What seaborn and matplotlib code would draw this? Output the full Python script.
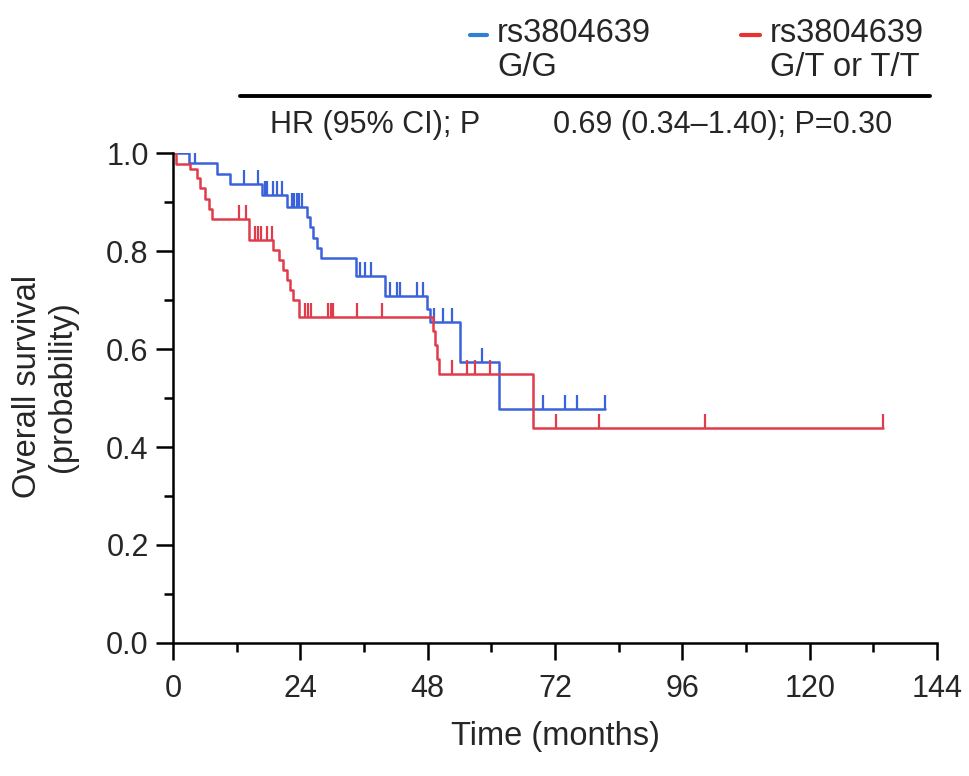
import numpy as np
import pandas as pd
import matplotlib
matplotlib.use("Agg")
import matplotlib.pyplot as plt
from matplotlib.ticker import MultipleLocator
import seaborn as sns

# ---- data ----
blue_label = ["rs3804639", "G/G"]
red_label = ["rs3804639", "G/T or T/T"]

blue_t = [0, 3.0, 8.3, 10.7, 16.8, 21.4, 25.3, 25.8, 26.4, 27.1, 27.9, 34.4, 40.0, 47.8, 48.5, 54.1, 61.5]
blue_s = [1.0, 0.980, 0.958, 0.936, 0.914, 0.890, 0.869, 0.848, 0.827, 0.806, 0.785, 0.749, 0.709, 0.682, 0.656, 0.574, 0.477]
blue_cens = [4.2, 13.4, 16.0, 17.3, 17.8, 18.9, 19.6, 20.5, 22.4, 22.9, 23.3, 23.8, 24.3,
             35.2, 36.2, 37.3, 40.9, 42.2, 42.8, 45.9, 47.2, 49.2, 50.9, 52.6, 58.2,
             69.7, 73.9, 76.1, 81.4]

red_t = [0, 0.6, 3.2, 4.5, 5.1, 6.0, 6.7, 7.3, 14.3, 18.8, 19.9, 20.8, 21.4, 22.0, 22.7, 23.8,
         49.0, 49.4, 49.8, 50.2, 67.9]
red_s = [1.0, 0.977, 0.968, 0.948, 0.928, 0.906, 0.886, 0.866, 0.822, 0.802, 0.782, 0.761, 0.741,
         0.720, 0.700, 0.666, 0.637, 0.608, 0.579, 0.550, 0.438]
red_cens = [12.4, 13.8, 15.5, 16.0, 16.6, 17.7, 18.6, 24.9, 25.5, 26.1, 29.3, 29.7, 30.1,
            34.6, 39.3, 52.5, 55.4, 56.9, 59.7, 72.2, 80.2, 100.3, 133.8]

hr_label = "HR (95% CI); P"
hr_value = "0.69 (0.34\u20131.40); P=0.30"

x_ticks = [0, 24, 48, 72, 96, 120, 144]
y_ticks = [0.0, 0.2, 0.4, 0.6, 0.8, 1.0]

BLUE = "#3a62da"
RED = "#e03c4c"
BLUE_LEG = "#2f7fd3"
RED_LEG = "#e8322f"

sns.set_style("ticks")
plt.rcParams["font.family"] = ["Liberation Sans", "DejaVu Sans"]

fig = plt.figure(figsize=(9.69, 7.76), dpi=100)
W, H = 969, 776
ax = fig.add_axes([173 / W, 1 - 643 / H, (937 - 173) / W, (643 - 153) / H])


def curve_frame(t, s, cens):
    t = list(t) + [max(cens)]
    s = list(s) + [s[-1]]
    return pd.DataFrame({"t": t, "s": s})


def cens_frame(t, s, cens):
    t = np.asarray(t)
    s = np.asarray(s)
    idx = np.searchsorted(t, np.asarray(cens), side="right") - 1
    return pd.DataFrame({"t": cens, "s": s[idx]})


for t, s, c, col in [(blue_t, blue_s, blue_cens, BLUE), (red_t, red_s, red_cens, RED)]:
    df = curve_frame(t, s, c)
    sns.lineplot(data=df, x="t", y="s", ax=ax, color=col, drawstyle="steps-post",
                 estimator=None, sort=False, linewidth=1.8)
    cf = cens_frame(t, s, c)
    ax.plot(cf["t"], cf["s"], linestyle="none", marker=2, markersize=10,
            markeredgewidth=1.6, color=col)

ax.set_xlim(0, 144)
ax.set_ylim(0, 1.0)
ax.set_xticks(x_ticks)
ax.set_yticks(y_ticks)
ax.set_xticklabels([str(v) for v in x_ticks])
ax.set_yticklabels([f"{v:.1f}" for v in y_ticks])
ax.xaxis.set_minor_locator(MultipleLocator(12))
ax.yaxis.set_minor_locator(MultipleLocator(0.1))
ax.tick_params(which="major", length=12.5, width=1.8, labelsize=22, color="black")
ax.tick_params(axis="x", which="major", pad=10)
ax.tick_params(axis="y", which="major", pad=5)
ax.tick_params(which="minor", length=6.5, width=1.8, color="black")
for side in ["left", "bottom"]:
    ax.spines[side].set_linewidth(1.8)
    ax.spines[side].set_color("black")
sns.despine(ax=ax)
ax.spines["left"].set_bounds(0, 1.0)

ax.set_xlabel("Time (months)", fontsize=23.5, labelpad=12)
ax.set_ylabel("")
fig.text(45 / W, 1 - 387 / H, "Overall survival\n(probability)", fontsize=23.5,
         rotation=90, ha="center", va="center", multialignment="center", linespacing=1.15)

# ---- header: legend and HR line ----
fig.add_artist(plt.Line2D([240 / W, 930 / W], [1 - 96 / H, 1 - 96 / H], color="black", linewidth=2.8))
fig.text(270 / W, 1 - 125 / H, hr_label, fontsize=22, va="center", ha="left")
fig.text(553 / W, 1 - 125 / H, hr_value, fontsize=22, va="center", ha="left")

fig.add_artist(plt.Line2D([470 / W, 487 / W], [1 - 35 / H, 1 - 35 / H], color=BLUE_LEG, linewidth=3))
fig.add_artist(plt.Line2D([741 / W, 760 / W], [1 - 35 / H, 1 - 35 / H], color=RED_LEG, linewidth=3))
for i, (bl, rl) in enumerate(zip(blue_label, red_label)):
    yy = 1 - (33 + 35 * i) / H
    fig.text(497 / W, yy, bl, fontsize=23.5, va="center", ha="left")
    fig.text(770 / W, yy, rl, fontsize=23.5, va="center", ha="left")

fig.savefig("out.png", dpi=100)
